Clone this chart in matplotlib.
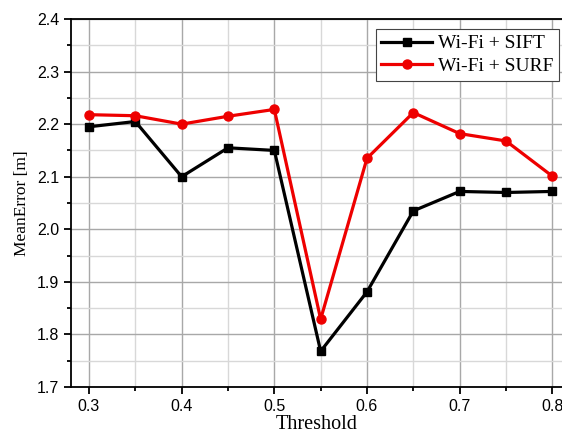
import numpy as np
import matplotlib
matplotlib.use('Agg')
import matplotlib.pyplot as plt
from matplotlib.ticker import MultipleLocator

threshold = [0.3, 0.35, 0.4, 0.45, 0.5, 0.55, 0.6, 0.65, 0.7, 0.75, 0.8]
sift = [2.195, 2.205, 2.100, 2.155, 2.150, 1.768, 1.881, 2.035, 2.072, 2.070, 2.072]
surf = [2.218, 2.216, 2.200, 2.215, 2.228, 1.829, 2.135, 2.222, 2.182, 2.168, 2.101]

fig = plt.figure(figsize=(5.62, 4.36), dpi=100)
ax = fig.add_axes([71/562, 49/436, 492/562, 368/436])

ax.plot(threshold, sift, color='black', lw=2.3, marker='s', ms=6, label='Wi-Fi + SIFT')
ax.plot(threshold, surf, color='#ee0000', lw=2.3, marker='o', ms=6.5, label='Wi-Fi + SURF')

ax.set_xlim(0.2806, 0.8115)
ax.set_ylim(1.7, 2.4)
ax.xaxis.set_major_locator(MultipleLocator(0.1))
ax.xaxis.set_minor_locator(MultipleLocator(0.05))
ax.yaxis.set_major_locator(MultipleLocator(0.1))
ax.yaxis.set_minor_locator(MultipleLocator(0.05))

ax.grid(which='major', color='#a8a8a8', lw=1.0)
ax.grid(which='minor', color='#d8d8d8', lw=1.0)
ax.set_axisbelow(True)

for s in ax.spines.values():
    s.set_linewidth(1.3)
ax.spines['right'].set_visible(False)
ax.tick_params(which='both', direction='out', width=1.3, labelsize=11.5)
ax.tick_params(which='major', length=5)
ax.tick_params(which='minor', length=3)
ax.tick_params(top=False, right=False)
for lab in ax.get_xticklabels() + ax.get_yticklabels():
    lab.set_family('Liberation Sans')

ax.set_xlabel('Threshold', family='Liberation Serif', fontsize=14.5, labelpad=1)
ax.set_ylabel('MeanError [m]', family='Liberation Serif', fontsize=12.5, labelpad=5)

leg = ax.legend(loc='upper right', bbox_to_anchor=(0.992, 0.973), borderaxespad=0, fancybox=False,
                framealpha=1, edgecolor='#444444', prop={'family': 'Liberation Serif', 'size': 14},
                handlelength=2.6, borderpad=0.3, labelspacing=0.25, handletextpad=0.3)
leg.get_frame().set_linewidth(0.8)

fig.savefig('out.png', dpi=100)
